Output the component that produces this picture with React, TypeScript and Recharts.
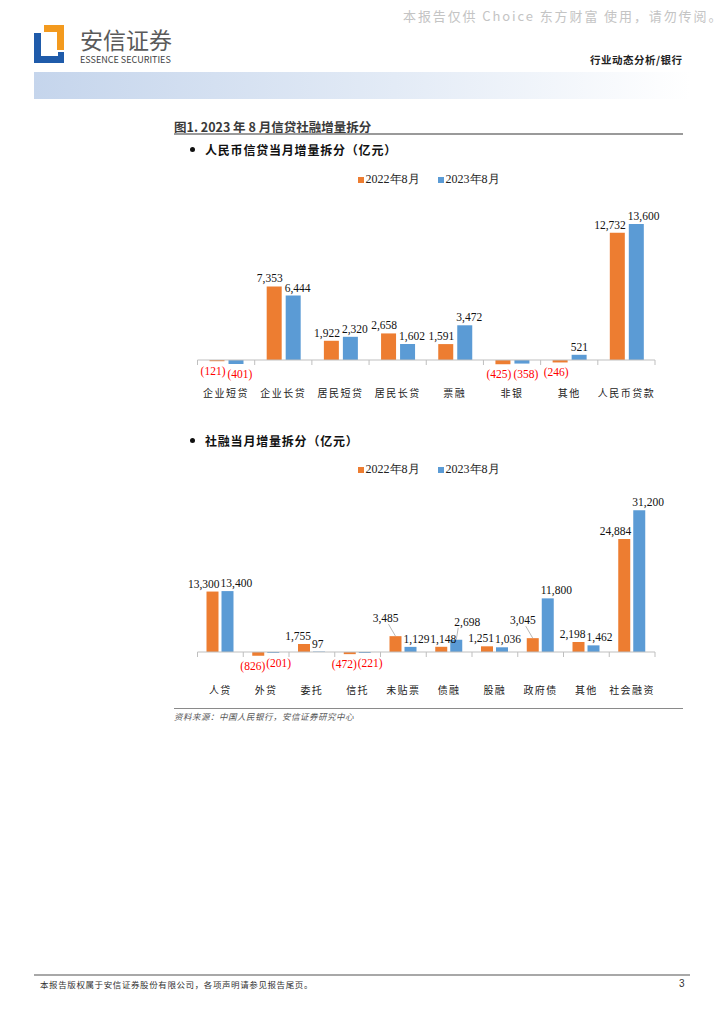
import { BarChart, Bar, XAxis, YAxis, ReferenceLine, Legend, LabelList } from 'recharts';

// 人民币信贷当月增量拆分（亿元）
const loanCategories = ['企业短贷', '企业长贷', '居民短贷', '居民长贷', '票融', '非银', '其他', '人民币贷款'];
const loan2022 = [-121, 7353, 1922, 2658, 1591, -425, -246, 12732];
const loan2023 = [-401, 6444, 2320, 1602, 3472, -358, 521, 13600];

// 社融当月增量拆分（亿元）
const tsfCategories = ['人贷', '外贷', '委托', '信托', '未贴票', '债融', '股融', '政府债', '其他', '社会融资'];
const tsf2022 = [13300, -826, 1755, -472, 3485, 1148, 1251, 3045, 2198, 24884];
const tsf2023 = [13400, -201, 97, -221, 1129, 2698, 1036, 11800, 1462, 31200];

const seriesNames = ['2022年8月', '2023年8月'];

// labels the original nudged upward with a leader line to keep them apart
const liftedLabels = ['未贴票-a', '债融-b', '政府债-a'];
// 2022 labels that lean right instead of left
const rightLeaning = ['债融-a'];

const ORANGE = '#ED7D31';
const BLUE = '#5B9BD5';
const AXIS = '#BFBFBF';
const CJK = '"Noto Sans CJK SC", "Noto Sans", sans-serif';
const SERIF = '"Liberation Serif", "DejaVu Serif", serif';

const loanData = loanCategories.map((name, i) => ({ name, a: loan2022[i], b: loan2023[i] }));
const tsfData = tsfCategories.map((name, i) => ({ name, a: tsf2022[i], b: tsf2023[i] }));

const fmt = (v: number) => Math.abs(v).toLocaleString('en-US');

// like the excel original: 2022 labels lean left, 2023 labels lean right,
// negatives go under the bar in red brackets
const makeLabel = (key: 'a' | 'b', categories: string[]) =>
  function ValueLabel(props: any) {
    const { x, y, width, height, value, index } = props;
    if (value == null) return null;
    const id = categories[index] + '-' + key;
    const left = key === 'a' && !rightLeaning.includes(id);
    const top = Math.min(y, y + height);
    const bottom = Math.max(y, y + height);
    const lx = left ? x + width + 1 : key === 'a' ? x - 5 : x - 1;
    const anchor = left ? 'end' : 'start';
    if (value < 0) {
      return (
        <text x={lx} y={bottom + 14} textAnchor={anchor} fill="#FF0000" fontSize={11.5} fontFamily={SERIF}>
          ({fmt(value)})
        </text>
      );
    }
    if (liftedLabels.includes(id)) {
      const ty = top - 14;
      const cx = x + width / 2;
      const tx = left ? x + width - 3 : x + 4;
      return (
        <g>
          <line x1={cx} y1={top} x2={left ? cx - 7 : cx + 2} y2={ty + 2} stroke="#A6A6A6" strokeWidth={0.8} />
          <text x={tx} y={ty} textAnchor={anchor} fill="#111" fontSize={11.5} fontFamily={SERIF}>
            {fmt(value)}
          </text>
        </g>
      );
    }
    return (
      <text x={lx} y={top - 4} textAnchor={anchor} fill="#111" fontSize={11.5} fontFamily={SERIF}>
        {fmt(value)}
      </text>
    );
  };

function LegendBox() {
  return (
    <div style={{ display: 'flex', justifyContent: 'center', gap: 18, fontFamily: SERIF, fontSize: 12, color: '#222' }}>
      {[ORANGE, BLUE].map((c, i) => (
        <span key={i} style={{ display: 'inline-flex', alignItems: 'center' }}>
          <span style={{ display: 'inline-block', width: 6, height: 6, background: c, marginRight: 2 }} />
          {seriesNames[i]}
        </span>
      ))}
    </div>
  );
}

type ChartProps = {
  data: { name: string; a: number; b: number }[];
  categories: string[];
  domain: [number, number];
  height: number;
  marginTop: number;
  barSize: number;
  barGap: number;
  tickDepth: number;
};

function SplitChart({ data, categories, domain, height, marginTop, barSize, barGap, tickDepth }: ChartProps) {
  const last = categories[categories.length - 1];
  const LabelA = makeLabel('a', categories);
  const LabelB = makeLabel('b', categories);
  return (
    <BarChart
      width={509}
      height={height}
      data={data}
      margin={{ top: marginTop, right: 28, bottom: 10, left: 23.5 }}
      barSize={barSize}
      barGap={barGap}
    >
      <Legend verticalAlign="middle" align="center" wrapperStyle={{ top: 6, left: 0, width: 509 }} content={() => <LegendBox />} />
      <XAxis
        dataKey="name"
        axisLine={false}
        tickLine={false}
        tickSize={0}
        tickMargin={20}
        height={30}
        interval={0}
        tick={{ fontSize: 10, fill: '#222', fontFamily: CJK, letterSpacing: 1.5 } as any}
      />
      <YAxis hide domain={domain} allowDataOverflow />
      <ReferenceLine y={0} stroke={AXIS} strokeWidth={1} />
      {categories.map((c) => (
        <ReferenceLine key={'t' + c} segment={[{ x: c, y: 0 }, { x: c, y: -tickDepth }]} position="start" stroke={AXIS} />
      ))}
      <ReferenceLine segment={[{ x: last, y: 0 }, { x: last, y: -tickDepth }]} position="end" stroke={AXIS} />
      <Bar dataKey="a" name={seriesNames[0]} fill={ORANGE} isAnimationActive={false}>
        <LabelList dataKey="a" content={LabelA} />
      </Bar>
      <Bar dataKey="b" name={seriesNames[1]} fill={BLUE} isAnimationActive={false}>
        <LabelList dataKey="b" content={LabelB} />
      </Bar>
    </BarChart>
  );
}

const abs = (left: number, top: number, extra: any = {}) => ({ position: 'absolute' as const, left, top, ...extra });

const bullet = <span style={{ display: 'inline-block', width: 5, height: 5, borderRadius: 3, background: '#111', marginRight: 10, verticalAlign: 'middle', position: 'relative', top: -2 }} />;

export default function App() {
  return (
    <div style={{ position: 'absolute', left: 0, top: 0, width: 724, height: 1024, background: '#fff', overflow: 'hidden', fontFamily: CJK }}>
      {/* watermark */}
      <div style={abs(403, 6, { fontSize: 13, color: '#C4C4C4', letterSpacing: 1.9, whiteSpace: 'nowrap', fontFamily: '"Noto Sans CJK SC", "DejaVu Sans Mono", monospace' })}>
        本报告仅供 Choice 东方财富 使用，请勿传阅。
      </div>

      {/* logo */}
      <svg style={abs(0, 0)} width={80} height={70}>
        <path d="M44,25 H64 V50 H57 V32 H44 Z" fill="#F39A1E" />
        <path d="M34,33 H41 V56 H58 V52 H64 V63 H34 Z" fill="#1F5BAA" />
      </svg>
      <div style={abs(80, 27, { fontSize: 23, color: '#5A5A5A', whiteSpace: 'nowrap', lineHeight: '24px' })}>安信证券</div>
      <div style={abs(80, 54, { fontSize: 9.5, color: '#444', whiteSpace: 'nowrap', lineHeight: '10px', transform: 'scaleX(0.95)', transformOrigin: 'left' })}>
        ESSENCE SECURITIES
      </div>
      <div style={abs(590, 52, { fontSize: 10.5, fontWeight: 700, color: '#222', whiteSpace: 'nowrap', letterSpacing: 0.5 })}>行业动态分析/银行</div>
      <div style={abs(34, 72, { width: 656, height: 27, background: 'linear-gradient(to right, #C5D5EC, #E3EBF6 55%, #FFFFFF)' })} />

      {/* figure title */}
      <div style={abs(174, 117, { fontSize: 12.5, fontWeight: 700, color: '#3A3A3A', whiteSpace: 'nowrap' })}>图1. 2023 年 8 月信贷社融增量拆分</div>
      <div style={abs(174, 133, { width: 509, height: 2, background: '#9A9A9A' })} />

      {/* chart 1 */}
      <div style={abs(190, 141, { fontSize: 12, fontWeight: 700, color: '#111', whiteSpace: 'nowrap', letterSpacing: 0.8 })}>
        {bullet}人民币信贷当月增量拆分（亿元）
      </div>
      <div style={abs(174, 165)}>
        <SplitChart
          data={loanData}
          categories={loanCategories}
          domain={[-1000, 15000]}
          height={245}
          marginTop={45}
          barSize={15}
          barGap={4}
          tickDepth={500}
        />
      </div>

      {/* chart 2 */}
      <div style={abs(190, 432, { fontSize: 12, fontWeight: 700, color: '#111', whiteSpace: 'nowrap', letterSpacing: 0.8 })}>
        {bullet}社融当月增量拆分（亿元）
      </div>
      <div style={abs(174, 455)}>
        <SplitChart
          data={tsfData}
          categories={tsfCategories}
          domain={[-3300, 33000]}
          height={252}
          marginTop={47}
          barSize={12}
          barGap={3}
          tickDepth={1100}
        />
      </div>

      {/* source */}
      <div style={abs(174, 708, { width: 509, height: 1, background: '#8A8A8A' })} />
      <div style={abs(174, 710, { fontSize: 8.5, fontStyle: 'italic', color: '#555', whiteSpace: 'nowrap', letterSpacing: 0.5 })}>
        资料来源：中国人民银行，安信证券研究中心
      </div>

      {/* footer */}
      <div style={abs(34, 974, { width: 656, height: 1.5, background: '#A8A8A8' })} />
      <div style={abs(40, 978, { fontSize: 8.5, color: '#333', whiteSpace: 'nowrap', letterSpacing: 0.6 })}>
        本报告版权属于安信证券股份有限公司，各项声明请参见报告尾页。
      </div>
      <div style={abs(679, 978, { fontSize: 10, color: '#333', fontFamily: '"Liberation Sans", sans-serif' })}>3</div>
    </div>
  );
}
